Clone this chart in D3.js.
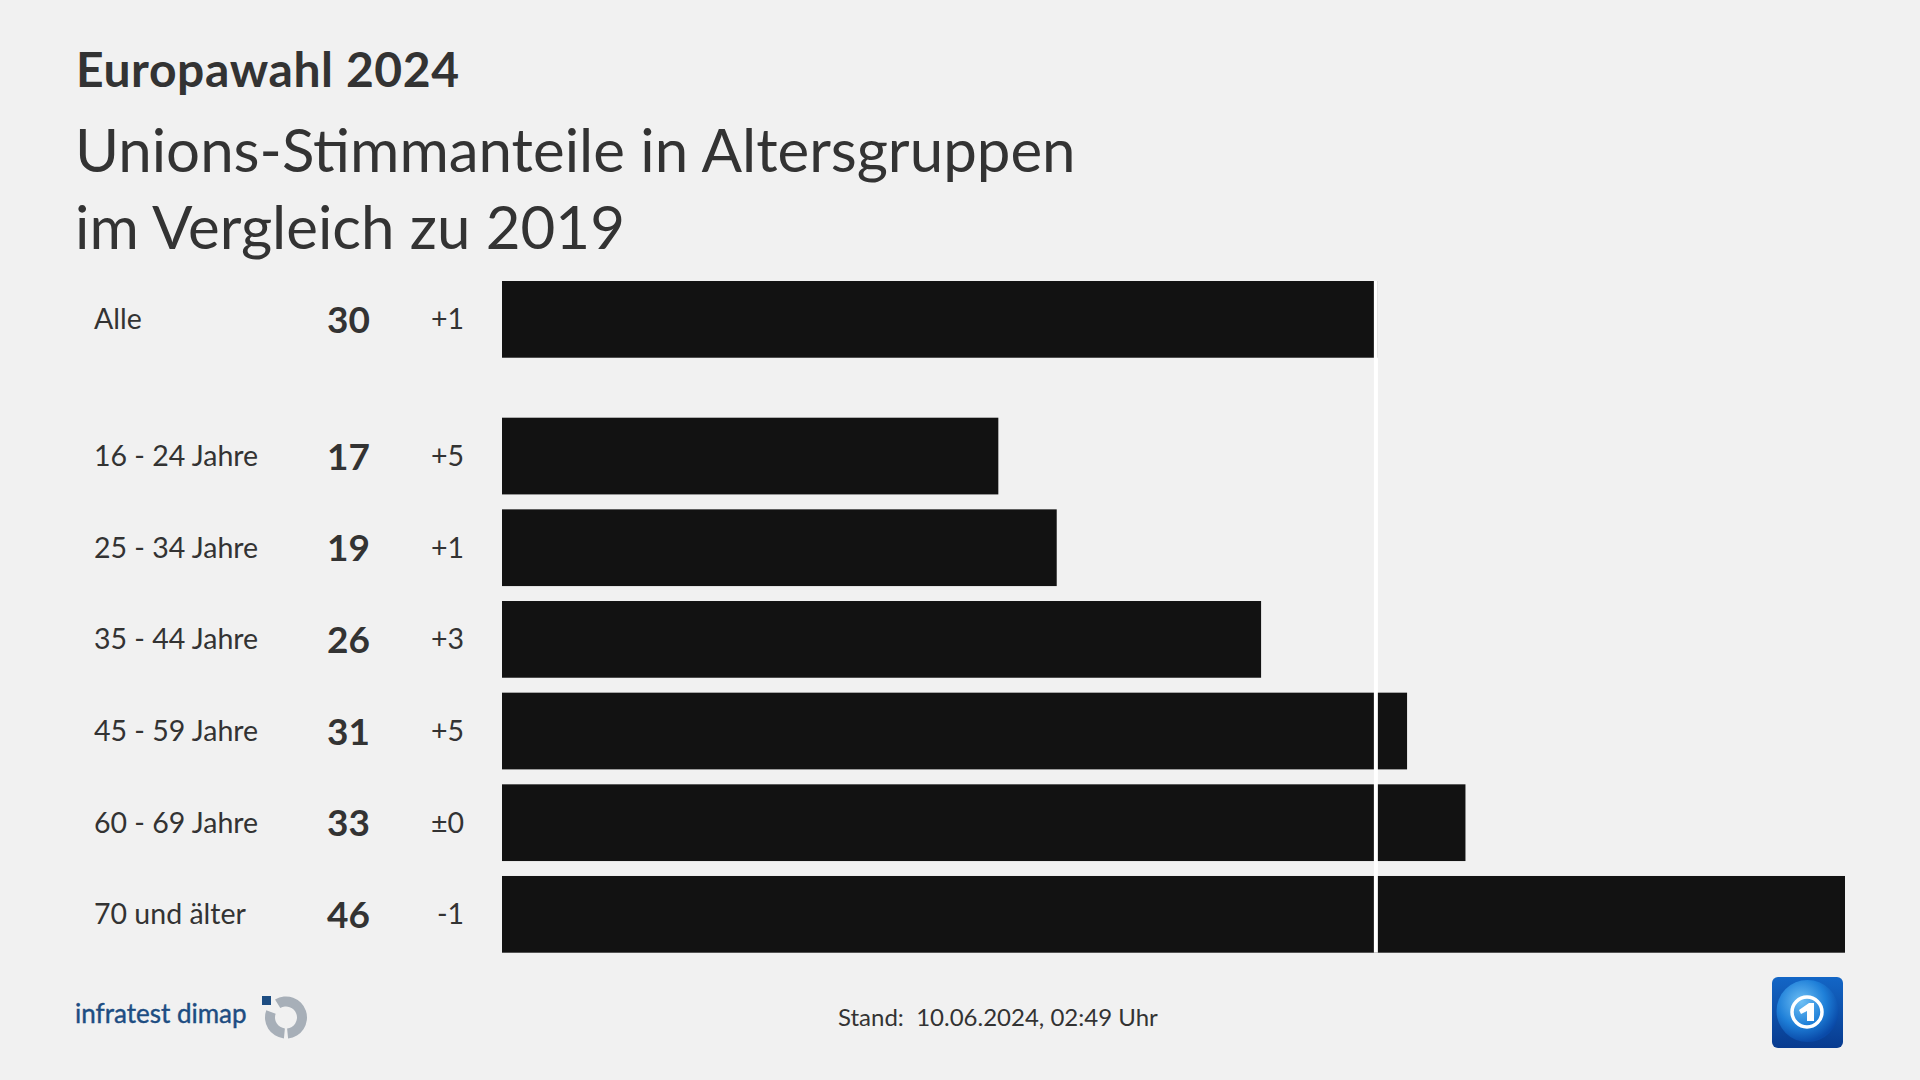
<!DOCTYPE html>
<html>
<head>
<meta charset="utf-8">
<script src="https://cdn.jsdelivr.net/npm/d3@7"></script>
<style>
  html, body { margin: 0; padding: 0; background: #f1f1f1; }
  svg { display: block; }
  text { font-family: Lato, "Noto Sans", sans-serif; }
</style>
</head>
<body>
<svg id="chart" width="1920" height="1080"></svg>
<script>
// ---- data ----
const overallLabel = "Alle";
const overallValue = 30;
const overallChange = "+1";
const categories = ["16 - 24 Jahre", "25 - 34 Jahre", "35 - 44 Jahre", "45 - 59 Jahre", "60 - 69 Jahre", "70 und älter"];
const values = [17, 19, 26, 31, 33, 46];
const changes = ["+5", "+1", "+3", "+5", "±0", "-1"];
const title = "Europawahl 2024";
const subtitleLines = ["Unions-Stimmanteile in Altersgruppen", "im Vergleich zu 2019"];
const footerText = "Stand:\u00a0 10.06.2024, 02:49 Uhr";
const sourceText = "infratest dimap";

// ---- layout ----
const W = 1920, H = 1080;
const barLeft = 502, barRight = 1845;
const textColor = "#333333";
const barColor = "#121212";

const svg = d3.select("#chart");
svg.append("rect").attr("width", W).attr("height", H).attr("fill", "#f1f1f1");

// titles
svg.append("text").attr("x", 76).attr("y", 87)
  .attr("font-size", 48).attr("font-weight", 700).attr("letter-spacing", 0.6).attr("fill", textColor).text(title);
svg.selectAll("text.sub").data(subtitleLines).join("text").attr("class", "sub")
  .attr("x", 75).attr("y", (d, i) => 172 + i * 77)
  .attr("font-size", 60).attr("font-weight", 400).attr("fill", textColor).text(d => d);

// scales
const x = d3.scaleLinear().domain([0, d3.max(values)]).range([barLeft, barRight]);
const yAge = d3.scaleBand().domain(categories).range([417.7, 952.7]).paddingInner(0.163).paddingOuter(0);
const bh = yAge.bandwidth();
const overallTop = 281;

const rows = [{label: overallLabel, value: overallValue, change: overallChange, y: overallTop}]
  .concat(categories.map((c, i) => ({label: c, value: values[i], change: changes[i], y: yAge(c)})));

const g = svg.append("g");
g.selectAll("rect.bar").data(rows).join("rect").attr("class", "bar")
  .attr("x", x(0)).attr("y", d => d.y)
  .attr("width", d => x(d.value) - x(0)).attr("height", bh)
  .attr("fill", barColor);

// reference line at overall value
g.append("rect")
  .attr("x", x(overallValue) - 4).attr("y", overallTop)
  .attr("width", 4).attr("height", yAge(categories[categories.length - 1]) + bh - overallTop)
  .attr("fill", "#ffffff");

// labels
g.selectAll("text.lab").data(rows).join("text").attr("class", "lab")
  .attr("x", 94).attr("y", d => d.y + bh / 2 + 10)
  .attr("font-size", 28.5).attr("fill", textColor).text(d => d.label);
g.selectAll("text.val").data(rows).join("text").attr("class", "val")
  .attr("x", 370).attr("y", d => d.y + bh / 2 + 13.5).attr("text-anchor", "end")
  .attr("font-size", 37).attr("font-weight", 700).attr("fill", textColor).text(d => d.value);
g.selectAll("text.chg").data(rows).join("text").attr("class", "chg")
  .attr("x", 464).attr("y", d => d.y + bh / 2 + 10).attr("text-anchor", "end")
  .attr("font-size", 28.5).attr("fill", textColor).text(d => d.change);

// footer
svg.append("text").attr("x", 838).attr("y", 1026)
  .attr("font-size", 24).attr("fill", textColor)
  .style("white-space", "pre").text(footerText);

// infratest dimap logo
svg.append("text").attr("x", 75).attr("y", 1023)
  .attr("font-size", 26).attr("font-weight", 400).attr("stroke", "#1d4d82").attr("stroke-width", 0.4)
  .attr("fill", "#1d4d82").text(sourceText);
svg.append("rect").attr("x", 262).attr("y", 996).attr("width", 9).attr("height", 9).attr("fill", "#1d4d82");
const ringArc = d3.arc().innerRadius(11).outerRadius(21);
const logoG = svg.append("g").attr("transform", "translate(286,1017.5)");
logoG.append("path").attr("fill", "#a7afb8")
  .attr("d", ringArc({startAngle: -0.55, endAngle: Math.PI - 0.1}));
logoG.append("path").attr("fill", "#a7afb8")
  .attr("d", ringArc({startAngle: Math.PI + 0.1, endAngle: Math.PI * 1.5 + 0.35}));

// ARD logo
const defs = svg.append("defs");
const lg = defs.append("linearGradient").attr("id", "ardBg").attr("x1", 0).attr("y1", 0).attr("x2", 0).attr("y2", 1);
lg.append("stop").attr("offset", "0%").attr("stop-color", "#1366c6");
lg.append("stop").attr("offset", "100%").attr("stop-color", "#083b8f");
const rg = defs.append("radialGradient").attr("id", "ardGlobe").attr("cx", "40%").attr("cy", "35%").attr("r", "65%");
rg.append("stop").attr("offset", "0%").attr("stop-color", "#6fc0f5");
rg.append("stop").attr("offset", "60%").attr("stop-color", "#1e7fd8");
rg.append("stop").attr("offset", "100%").attr("stop-color", "#0a4aa8");
const ard = svg.append("g").attr("transform", "translate(1772,977)");
ard.append("rect").attr("width", 71).attr("height", 71).attr("rx", 6).attr("fill", "url(#ardBg)");
ard.append("circle").attr("cx", 35.5).attr("cy", 34).attr("r", 31).attr("fill", "url(#ardGlobe)");
ard.append("circle").attr("cx", 35).attr("cy", 35).attr("r", 15).attr("fill", "none").attr("stroke", "#ffffff").attr("stroke-width", 3.5);
ard.append("path").attr("fill", "#ffffff")
  .attr("d", "M27,33 L37,26 L42,26 L42,44 L35,44 L35,34 L29,37 Z");
</script>
</body>
</html>
